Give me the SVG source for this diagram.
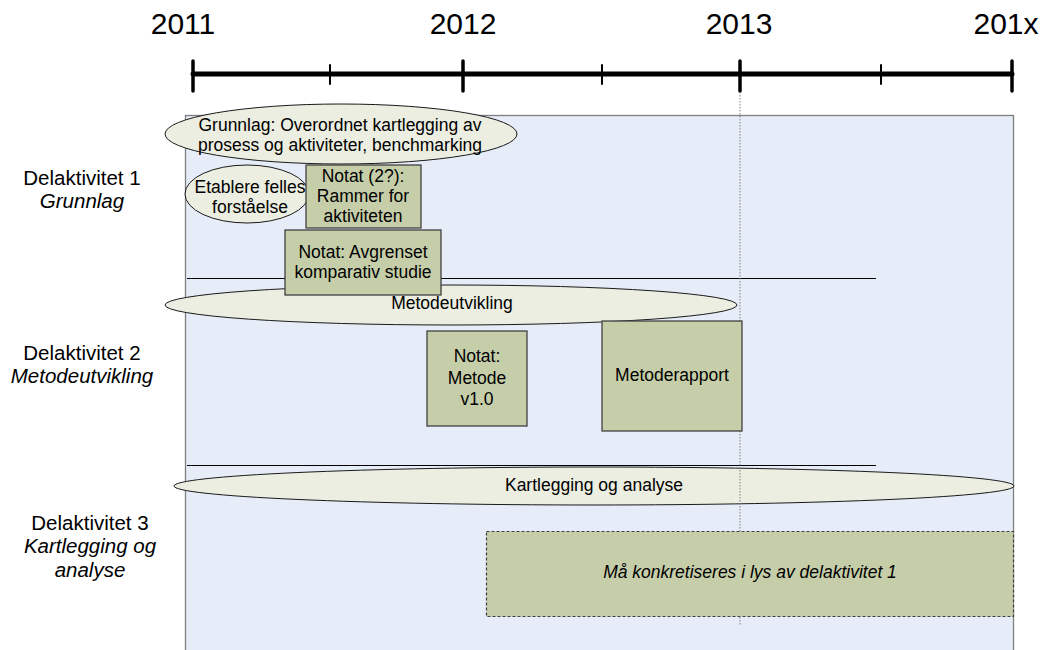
<svg xmlns="http://www.w3.org/2000/svg" width="1048" height="650" viewBox="0 0 1048 650">
<style>
text{font-family:"Liberation Sans",Arial,sans-serif;fill:#000;text-anchor:middle}
.t{font-size:17.5px}
.lab{font-size:20.5px}
.yr{font-size:30px}
.i{font-style:italic}
.ell{fill:#ECEEE1;stroke:#1a1a1a;stroke-width:1}
.box{fill:#C6CEA9;stroke:#404040;stroke-width:1.3}
.sep{stroke:#000;stroke-width:1}
</style>
<rect width="1048" height="650" fill="#fff"/>
<g id="panel"><rect x="185.5" y="115.5" width="828" height="540" fill="#E6EDF8" stroke="#7f7f7f" stroke-width="1.3"/></g>
<g id="timeline" stroke="#000" stroke-linecap="round">
<line x1="193" y1="74" x2="1012" y2="74" stroke-width="5"/>
<line x1="193" y1="61" x2="193" y2="91" stroke-width="3.5"/>
<line x1="463" y1="61" x2="463" y2="91" stroke-width="3.5"/>
<line x1="740" y1="61" x2="740" y2="91" stroke-width="3.5"/>
<line x1="1012" y1="61" x2="1012" y2="91" stroke-width="3.5"/>
<line x1="330" y1="65" x2="330" y2="84" stroke-width="2"/>
<line x1="602" y1="65" x2="602" y2="84" stroke-width="2"/>
<line x1="881" y1="65" x2="881" y2="84" stroke-width="2"/>
</g>
<g id="years">
<text class="yr" x="183" y="34">2011</text>
<text class="yr" x="463" y="34">2012</text>
<text class="yr" x="739" y="34">2013</text>
<text class="yr" x="1006" y="34">201x</text>
</g>
<g id="labels">
<text class="lab" x="82" y="185">Delaktivitet 1</text>
<text class="lab i" x="82" y="208">Grunnlag</text>
<text class="lab" x="82" y="360">Delaktivitet 2</text>
<text class="lab i" x="82" y="383">Metodeutvikling</text>
<text class="lab" x="90" y="530">Delaktivitet 3</text>
<text class="lab i" x="90" y="553">Kartlegging og</text>
<text class="lab i" x="90" y="577">analyse</text>
</g>
<g id="connectors">
<line class="sep" x1="187" y1="278.5" x2="876" y2="278.5"/>
<line class="sep" x1="187" y1="465.5" x2="876" y2="465.5"/>
</g>
<g id="grunnlag">
<ellipse class="ell" cx="341" cy="134" rx="176" ry="30"/>
<text class="t" x="340" y="131">Grunnlag: Overordnet kartlegging av</text>
<text class="t" x="340" y="151">prosess og aktiviteter, benchmarking</text>
</g>
<g id="etablere">
<ellipse class="ell" cx="247" cy="194" rx="62" ry="29"/>
<text class="t" x="250" y="193">Etablere felles</text>
<text class="t" x="250" y="213">forståelse</text>
</g>
<g id="notat-rammer">
<rect class="box" x="306" y="165" width="115" height="63"/>
<text class="t" x="363" y="182">Notat (2?):</text>
<text class="t" x="363" y="202">Rammer for</text>
<text class="t" x="363" y="222">aktiviteten</text>
</g>
<g id="metodeutvikling">
<ellipse class="ell" cx="451" cy="305" rx="286" ry="20"/>
<text class="t" x="452" y="309">Metodeutvikling</text>
</g>
<g id="notat-avgrenset">
<rect class="box" x="285" y="230" width="156" height="65"/>
<text class="t" x="363" y="258">Notat: Avgrenset</text>
<text class="t" x="363" y="278">komparativ studie</text>
</g>
<g id="notat-metode">
<rect class="box" x="427" y="331" width="100" height="95"/>
<text class="t" x="477" y="362">Notat:</text>
<text class="t" x="477" y="384">Metode</text>
<text class="t" x="477" y="405">v1.0</text>
</g>
<g id="kartlegging">
<ellipse class="ell" cx="594" cy="486" rx="420" ry="19"/>
<text class="t" x="594" y="491">Kartlegging og analyse</text>
</g>
<g id="dotted"><line x1="740" y1="92" x2="740" y2="625" stroke="#808080" stroke-width="1" stroke-dasharray="1.5,1.5"/></g>
<g id="metoderapport">
<rect class="box" x="602" y="321" width="140" height="110"/>
<text class="t" x="672" y="381">Metoderapport</text>
</g>
<g id="konkretiseres">
<rect x="486.5" y="531.5" width="527" height="85" fill="#C6CEA9" stroke="#404040" stroke-width="1.2" stroke-dasharray="3,2"/>
<text class="t i" x="750" y="578">Må konkretiseres i lys av delaktivitet 1</text>
</g>
</svg>
